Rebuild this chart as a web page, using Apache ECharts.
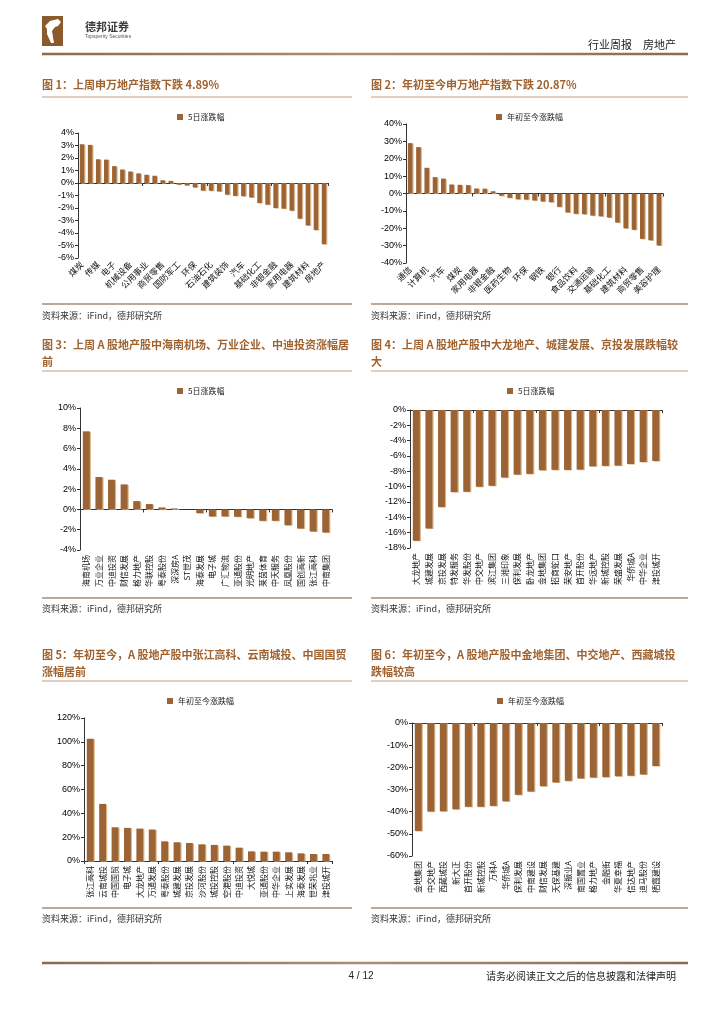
<!DOCTYPE html>
<html><head><meta charset="utf-8">
<script src="https://cdn.jsdelivr.net/npm/echarts/dist/echarts.min.js"></script>
<style>html,body{margin:0;padding:0;background:#fff}#c{width:724px;height:1024px}</style>
</head><body><div id="c"></div>
<script>
// ---------- data ----------
const c1Cats = ['煤炭','通信','传媒','计算机','电子','有色金属','机械设备','电力设备','公用事业','钢铁','商贸零售','银行','国防军工','医药生物','环保','交通运输','石油石化','农林牧渔','建筑装饰','轻工制造','汽车','纺织服饰','基础化工','食品饮料','非银金融','社会服务','家用电器','综合','建筑材料','美容护理','房地产'];
const c1Vals = [3.1,3.05,1.9,1.87,1.35,1.08,0.92,0.77,0.66,0.58,0.22,0.17,-0.13,-0.19,-0.35,-0.61,-0.62,-0.67,-0.93,-1.03,-1.05,-1.15,-1.6,-1.73,-2.0,-2.05,-2.21,-2.85,-3.39,-3.76,-4.89];

const c2Cats = ['通信','传媒','计算机','电子','汽车','机械设备','煤炭','公用事业','家用电器','国防军工','非银金融','有色金属','医药生物','石油石化','环保','电力设备','钢铁','建筑装饰','银行','农林牧渔','食品饮料','纺织服饰','交通运输','轻工制造','基础化工','综合','建筑材料','房地产','商贸零售','社会服务','美容护理'];
const c2Vals = [29.0,26.7,14.8,9.4,8.6,5.2,5.0,4.8,2.9,2.8,1.3,-1.3,-2.5,-3.3,-3.5,-4.0,-4.6,-5.0,-7.7,-10.9,-11.7,-11.9,-12.7,-13.1,-13.8,-16.7,-20.0,-20.87,-26.1,-26.9,-29.9];

const c3Cats = ['海南机场','万业企业','中迪投资','财信发展','格力地产','华联控股','粤泰股份','深深房A','ST世茂','海泰发展','电子城','广汇物流','亚通股份','光明地产','莱茵体育','中天服务','凤凰股份','国创高新','张江高科','中南集团'];
const c3Vals = [7.7,3.2,2.93,2.47,0.82,0.53,0.2,0.1,0,-0.36,-0.69,-0.69,-0.72,-0.86,-1.12,-1.12,-1.55,-1.88,-2.17,-2.27];

const c4Cats = ['大龙地产','城建发展','京投发展','特发服务','华发股份','中交地产','滨江集团','三湘印象','保利发展','卧龙地产','金地集团','招商蛇口','荣安地产','首开股份','华远地产','新城控股','荣盛发展','华侨城A','中华企业','津投城开'];
const c4Vals = [-17.05,-15.45,-12.65,-10.7,-10.66,-10.01,-9.88,-8.8,-8.42,-8.33,-7.85,-7.81,-7.81,-7.77,-7.34,-7.29,-7.25,-7.04,-6.78,-6.65];

const c5Cats = ['张江高科','云南城投','中国国贸','电子城','大龙地产','万通发展','粤泰股份','城建发展','京投发展','沙河股份','城投控股','空港股份','中迪投资','大悦城','亚通股份','中华企业','上实发展','海泰发展','世荣兆业','津投城开'];
const c5Vals = [102.6,47.9,28.3,27.8,27.2,26.4,16.5,15.7,15.1,14.0,13.5,12.9,11.2,8.1,7.85,7.85,7.3,6.4,5.9,5.9];

const c6Cats = ['金地集团','中交地产','西藏城投','新大正','首开股份','新城控股','万科A','华侨城A','保利发展','中南建设','财信发展','天保基建','深振业A','南国置业','格力地产','金融街','华夏幸福','信达地产','迪马股份','栖霞建设'];
const c6Vals = [-48.7,-39.95,-39.8,-38.9,-37.8,-37.8,-37.4,-35.3,-32.4,-30.9,-28.5,-26.8,-26.1,-25.0,-24.6,-24.4,-24.0,-23.8,-23.2,-19.4];

const name5d = '5日涨跌幅';
const nameYtd = '年初至今涨跌幅';

// ---------- layout ----------
const BROWN = '#9C6434';
const TITLE = '#A0622E';
const CJK = '"Noto Sans CJK SC","Noto Sans",sans-serif';
const LAT = '"Liberation Sans",Arial,sans-serif';

const panels = [
  {cats:c1Cats, vals:c1Vals, name:name5d, min:-6, max:4, step:1, grid:{left:78,top:133,width:250,height:125}, rotate:45, li:1, fs:8.5, legend:[172,108]},
  {cats:c2Cats, vals:c2Vals, name:nameYtd, min:-40, max:40, step:10, grid:{left:406,top:124,width:257,height:139}, rotate:45, li:1, fs:8.5, legend:[491,108]},
  {cats:c3Cats, vals:c3Vals, name:name5d, min:-4, max:10, step:2, grid:{left:80,top:408,width:252,height:142}, rotate:90, li:0, fs:8, legend:[172,382]},
  {cats:c4Cats, vals:c4Vals, name:name5d, min:-18, max:0, step:2, grid:{left:410,top:410,width:252,height:138}, rotate:90, li:0, fs:8, legend:[502,382]},
  {cats:c5Cats, vals:c5Vals, name:nameYtd, min:0, max:120, step:20, grid:{left:84,top:718,width:248,height:143}, rotate:90, li:0, fs:8, legend:[162,692]},
  {cats:c6Cats, vals:c6Vals, name:nameYtd, min:-60, max:0, step:10, grid:{left:412,top:723,width:250,height:133}, rotate:90, li:0, fs:8, legend:[492,692]}
];

const grids=[], xAxes=[], yAxes=[], series=[], legends=[];
panels.forEach((p,i)=>{
  grids.push(Object.assign({containLabel:false}, p.grid));
  yAxes.push({type:'value', gridIndex:i, min:p.min, max:p.max, interval:p.step,
    axisLine:{show:true, lineStyle:{color:'#333', width:1}},
    axisTick:{show:true, length:3, lineStyle:{color:'#333'}},
    splitLine:{show:false},
    axisLabel:{formatter:v=>v+'%', fontSize:9, color:'#000', fontFamily:LAT, margin:4}});
  xAxes.push({type:'category', gridIndex:i, data:p.cats, position:'bottom',
    axisLine:{show:true, onZero:true, lineStyle:{color:'#333', width:1}},
    axisTick:{show:true, length:3, lineStyle:{color:'#333'}},
    axisLabel:{show:false}});
  xAxes.push({type:'category', gridIndex:i, data:p.cats, position:'bottom',
    axisLine:{show:false, onZero:false}, axisTick:{show:false},
    axisLabel:{show:true, rotate:p.rotate, interval:p.li, fontSize:p.fs, color:'#111', fontFamily:CJK, margin:5}});
  series.push({type:'bar', name:p.name, xAxisIndex:2*i, yAxisIndex:i, data:p.vals, barWidth:'55%',
    itemStyle:{color:BROWN, shadowColor:'rgba(214,178,135,0.95)', shadowOffsetX:1.2, shadowOffsetY:0.6, shadowBlur:0},
    emphasis:{disabled:true}});
  legends.push({left:p.legend[0], top:p.legend[1], data:[p.name], icon:'rect', itemWidth:6, itemHeight:6, itemGap:2,
    selectedMode:false, textStyle:{fontSize:8, color:'#222', fontFamily:CJK}});
});

// ---------- page graphics ----------
const g = [];
function txt(x,y,s,size,opt){ g.push({type:'text', x:x, y:y, style:Object.assign({text:s, fontSize:size, fill:'#222', fontFamily:CJK, textVerticalAlign:'middle'}, opt||{})}); }
function line(x1,y1,x2,y2,color,w){ g.push({type:'line', shape:{x1,y1,x2,y2}, style:{stroke:color, lineWidth:w}}); }

// header
g.push({type:'rect', shape:{x:42,y:16,width:21,height:30}, style:{fill:'#8B5A2B'}});
g.push({type:'polygon', shape:{points:[[45,26],[50,21],[58,19],[61,22],[58,26],[55,27],[52,31],[54,43],[51,43],[47,34],[47,29]]}, style:{fill:'#fff'}});
txt(85,27,'德邦证券',11,{fontWeight:'bold', fill:'#3c3c3c'});
txt(85,37,'Topsperity Securities',5,{fill:'#555', fontFamily:LAT});
txt(676,45,'行业周报　房地产',11,{textAlign:'right', fill:'#222'});
g.push({type:'line', shape:{x1:42,y1:54,x2:688,y2:54}, style:{lineWidth:2.5, stroke:{type:'linear',x:0,y:0,x2:1,y2:0,colorStops:[{offset:0,color:'#8c6a4c'},{offset:0.5,color:'#b08d6a'},{offset:1,color:'#8c6a4c'}]}}});

// titles
const titles = [
  [42,85,['图 1：上周申万地产指数下跌 4.89%']],
  [371,85,['图 2：年初至今申万地产指数下跌 20.87%']],
  [42,345,['图 3：上周 A 股地产股中海南机场、万业企业、中迪投资涨幅居','前']],
  [371,345,['图 4：上周 A 股地产股中大龙地产、城建发展、京投发展跌幅较','大']],
  [42,655,['图 5：年初至今，A 股地产股中张江高科、云南城投、中国国贸','涨幅居前']],
  [371,655,['图 6：年初至今，A 股地产股中金地集团、中交地产、西藏城投','跌幅较高']]
];
titles.forEach(t=>{ t[2].forEach((s,k)=>txt(t[0], t[1]+k*17, s, 11, {fontWeight:'bold', fill:TITLE})); });

// title underlines and panel bottom lines
[[42,352,97],[371,688,97],[42,352,371],[371,688,371],[42,352,681],[371,688,681]].forEach(a=>line(a[0],a[2],a[1],a[2],'#c2a07e',1));
[[42,352,304],[371,688,304],[42,352,598],[371,688,598],[42,352,908],[371,688,908]].forEach(a=>line(a[0],a[2],a[1],a[2],'#a68d76',1.6));

// sources
[[42,316],[371,316],[42,609],[371,609],[42,919],[371,919]].forEach(a=>txt(a[0],a[1],'资料来源：iFind，德邦研究所',9,{fill:'#333'}));

// footer
g.push({type:'line', shape:{x1:42,y1:963,x2:688,y2:963}, style:{lineWidth:2.5, stroke:{type:'linear',x:0,y:0,x2:1,y2:0,colorStops:[{offset:0,color:'#8c6a4c'},{offset:0.5,color:'#b08d6a'},{offset:1,color:'#8c6a4c'}]}}});
txt(361,976,'4 / 12',10,{textAlign:'center', fontFamily:LAT, fill:'#222'});
txt(676,976,'请务必阅读正文之后的信息披露和法律声明',10,{textAlign:'right', fill:'#222'});

const chart = echarts.init(document.getElementById('c'), null, {renderer:'canvas'});
chart.setOption({
  animation:false,
  backgroundColor:'#fff',
  grid:grids, xAxis:xAxes, yAxis:yAxes, series:series, legend:legends,
  graphic:{elements:g}
});
</script></body></html>
